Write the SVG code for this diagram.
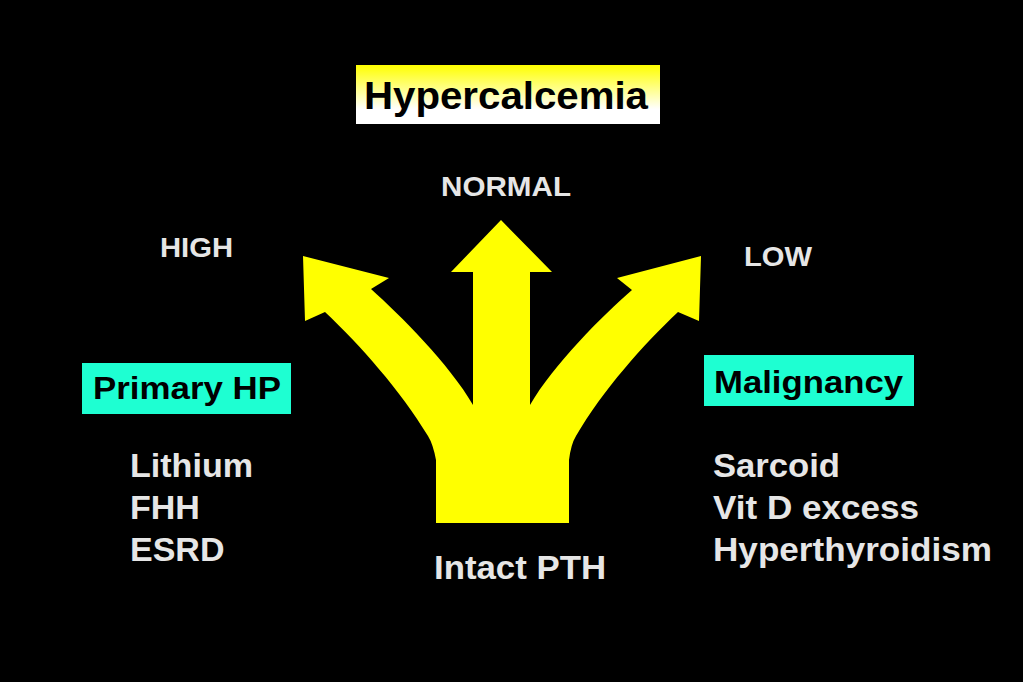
<svg xmlns="http://www.w3.org/2000/svg" width="1023" height="682" viewBox="0 0 1023 682">
<defs>
<linearGradient id="yw" x1="0" y1="0" x2="0" y2="1">
<stop offset="0" stop-color="#ffff00"/>
<stop offset="0.75" stop-color="#ffffff"/>
<stop offset="1" stop-color="#ffffff"/>
</linearGradient>
<style>
text{font-family:"Liberation Sans",Arial,sans-serif;font-weight:bold}
.w{fill:#e6e6e6}
.k{fill:#000000}
.teal{fill:#1effd2}
.lbl{font-size:28px}
.body{font-size:34px}
</style>
</defs>
<rect x="0" y="0" width="1023" height="682" fill="#000000"/>
<g id="title">
<rect x="356" y="65" width="304" height="59" fill="url(#yw)"/>
<text class="k" x="364" y="109" font-size="38" textLength="284" lengthAdjust="spacingAndGlyphs">Hypercalcemia</text>
</g>
<g id="connectors">
<path id="fork-arrow" fill="#ffff00" d="M436,523 L436,460 Q433,444 428,436 C400,390 360,345 325,312 L305,321 L303,256 L389,278 L371,289 C400,315 450,365 473,405 L473,272 L451,272 L501,220 L552,272 L530,272 L530,405 C553,365 603,315 632,290 L617,278 L701,256 L699,321 L678,312 C643,345 603,390 576,436 Q571,444 569,460 L569,523 Z"/>
</g>
<g id="normal"><text class="w lbl" x="441" y="196" textLength="130" lengthAdjust="spacingAndGlyphs">NORMAL</text></g>
<g id="high"><text class="w lbl" x="160" y="257" textLength="73" lengthAdjust="spacingAndGlyphs">HIGH</text></g>
<g id="low"><text class="w lbl" x="744" y="266" textLength="68" lengthAdjust="spacingAndGlyphs">LOW</text></g>
<g id="primary-hp">
<rect class="teal" x="82" y="363" width="209" height="51"/>
<text class="k" x="93" y="399" font-size="32" textLength="188" lengthAdjust="spacingAndGlyphs">Primary HP</text>
</g>
<g id="high-list">
<text class="w body" x="130" y="477" textLength="123" lengthAdjust="spacingAndGlyphs">Lithium</text>
<text class="w body" x="130" y="519">FHH</text>
<text class="w body" x="130" y="561">ESRD</text>
</g>
<g id="malignancy">
<rect class="teal" x="704" y="355" width="210" height="51"/>
<text class="k" x="714" y="393" font-size="32" textLength="189" lengthAdjust="spacingAndGlyphs">Malignancy</text>
</g>
<g id="low-list">
<text class="w body" x="713" y="477" textLength="127" lengthAdjust="spacingAndGlyphs">Sarcoid</text>
<text class="w body" x="713" y="519" textLength="206" lengthAdjust="spacingAndGlyphs">Vit D excess</text>
<text class="w body" x="713" y="561" textLength="279" lengthAdjust="spacingAndGlyphs">Hyperthyroidism</text>
</g>
<g id="intact-pth"><text class="w body" x="434" y="579" textLength="172" lengthAdjust="spacingAndGlyphs">Intact PTH</text></g>
</svg>
